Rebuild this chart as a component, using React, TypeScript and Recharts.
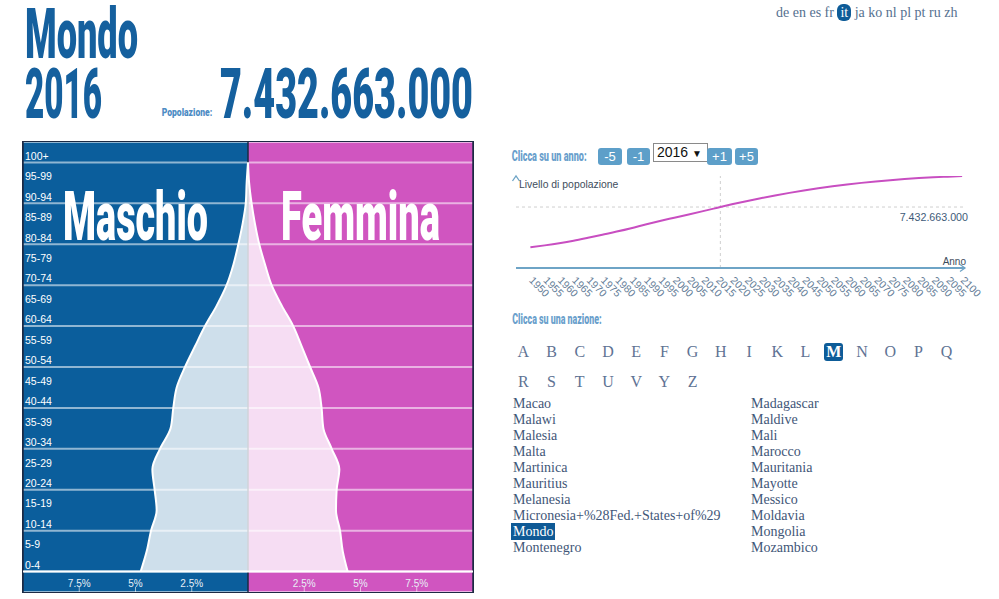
import React from 'react';
import {
  ComposedChart,
  Area,
  XAxis,
  YAxis,
  CartesianGrid,
  ReferenceLine,
  ReferenceDot,
  LineChart,
  Line,
} from 'recharts';

// ---------- data ----------
const ageGroups = ['0-4', '5-9', '10-14', '15-19', '20-24', '25-29', '30-34', '35-39', '40-44', '45-49', '50-54', '55-59', '60-64', '65-69', '70-74', '75-79', '80-84', '85-89', '90-94', '95-99', '100+'];
const malePct = [4.77, 4.5, 4.31, 4.06, 4.15, 4.25, 3.91, 3.44, 3.32, 3.17, 2.8, 2.36, 1.91, 1.39, 0.95, 0.65, 0.43, 0.24, 0.1, 0.06, 0.0];
const femalePct = [4.43, 4.21, 4.09, 3.91, 3.94, 4.06, 3.72, 3.35, 3.27, 3.13, 2.76, 2.39, 2.01, 1.5, 1.05, 0.76, 0.5, 0.31, 0.16, 0.05, 0.0];
const pctTicks = [-7.5, -5, -2.5, 2.5, 5, 7.5];
const halfEdges = [-10, 0, 10];

const years = [1950, 1955, 1960, 1965, 1970, 1975, 1980, 1985, 1990, 1995, 2000, 2005, 2010, 2015, 2016, 2020, 2025, 2030, 2035, 2040, 2045, 2050, 2055, 2060, 2065, 2070, 2075, 2080, 2085, 2090, 2095, 2100];
const popBillions = [2.525, 2.758, 3.018, 3.322, 3.682, 4.061, 4.44, 4.853, 5.31, 5.735, 6.127, 6.52, 6.93, 7.349, 7.433, 7.758, 8.142, 8.501, 8.839, 9.157, 9.454, 9.725, 9.968, 10.184, 10.375, 10.548, 10.704, 10.84, 10.956, 11.05, 11.132, 11.213];
const yearTicks = [1950, 1955, 1960, 1965, 1970, 1975, 1980, 1985, 1990, 1995, 2000, 2005, 2010, 2015, 2020, 2025, 2030, 2035, 2040, 2045, 2050, 2055, 2060, 2065, 2070, 2075, 2080, 2085, 2090, 2095, 2100];
const yearDomain = [1945, 2101];

const placeName = 'Mondo';
const selectedYear = 2016;
const selectedPopulation = 7432663000;

const languages = ['de', 'en', 'es', 'fr', 'it', 'ja', 'ko', 'nl', 'pl', 'pt', 'ru', 'zh'];
const activeLanguage = 'it';
const lettersRow1 = ['A', 'B', 'C', 'D', 'E', 'F', 'G', 'H', 'I', 'K', 'L', 'M', 'N', 'O', 'P', 'Q'];
const lettersRow2 = ['R', 'S', 'T', 'U', 'V', 'Y', 'Z'];
const activeLetter = 'M';
const countriesLeft = ['Macao', 'Malawi', 'Malesia', 'Malta', 'Martinica', 'Mauritius', 'Melanesia', 'Micronesia+%28Fed.+States+of%29', 'Mondo', 'Montenegro'];
const countriesRight = ['Madagascar', 'Maldive', 'Mali', 'Marocco', 'Mauritania', 'Mayotte', 'Messico', 'Moldavia', 'Mongolia', 'Mozambico'];
const activeCountry = 'Mondo';

const pyramidRows = ageGroups.map((g, i) => ({ pos: i, group: g, male: -malePct[i], female: femalePct[i] }));
const labelPositions = ageGroups.map((_, i) => i + 0.5);
const gridPositions = ageGroups.map((_, i) => i);
const popRows = years.map((y, i) => ({ year: y, pop: popBillions[i] }));
const popMax = Math.max(...popBillions);

// ---------- styles ----------
const BLUE = '#0b5e9c';
const MAGENTA = '#d055c0';
const TITLE = '#15609e';
const DARK = '#1c2a44';
const AXIS = '#6ea4c6';
const LINE = '#c84ec1';
const SANS = "'Liberation Sans', Arial, sans-serif";
const SERIF = "'Liberation Serif', 'Times New Roman', serif";
const COND = "Roboto, 'DejaVu Sans', sans-serif";

const formatIt = (n: number) => String(n).replace(/\B(?=(\d{3})+(?!\d))/g, '.');

const AgeTick = (props: any) => {
  const { x, y, payload } = props;
  return (
    <text x={x} y={y + 7.5} fill="#ffffff" fontSize={10.5} fontFamily={SANS}>
      {ageGroups[Math.floor(payload.value)]}
    </text>
  );
};

const YearTick = (props: any) => {
  const { x, y, payload } = props;
  const px = x - 2;
  const py = y + 13;
  return (
    <text x={px} y={py} transform={`rotate(45 ${px} ${py})`} fill="#647d97" fontSize={10.5} fontFamily={SANS}>
      {payload.value}
    </text>
  );
};

const PopLabel = (props: any) => {
  const vb = props.viewBox || {};
  return (
    <text x={vb.x + vb.width + 3} y={vb.y + 13.5} textAnchor="end" fill="#3e5a78" fontSize={10.7} fontFamily={SANS}>
      {formatIt(selectedPopulation)}
    </text>
  );
};

const ArrowRight = (p: any) => (
  <path d={`M${p.cx - 5},${p.cy - 3.5} L${p.cx},${p.cy} L${p.cx - 5},${p.cy + 3.5}`} fill="none" stroke={AXIS} strokeWidth={1.3} />
);
const ArrowUp = (p: any) => (
  <path d={`M${p.cx - 3.5},${p.cy + 5} L${p.cx},${p.cy} L${p.cx + 3.5},${p.cy + 5}`} fill="none" stroke={AXIS} strokeWidth={1.3} />
);

const hLine = (p: any) => (
  <line key={p.key} x1={p.x1} y1={p.y1} x2={p.x2} y2={p.y2} stroke="#ffffff" strokeOpacity={0.55} strokeWidth={2} />
);
const vLine = (p: any) => (
  <line key={p.key} x1={p.x1} y1={p.y1} x2={p.x2} y2={p.y2} stroke={DARK} strokeWidth={1.5} />
);

const CondText = ({ x, y, w, size, color, children }: any) => (
  <text x={x} y={y} textLength={w} lengthAdjust="spacingAndGlyphs" fontSize={size} fontFamily={COND} fontWeight={900} fill={color}>
    {children}
  </text>
);

const Button = ({ left, width, label }: any) => (
  <div
    style={{
      position: 'absolute',
      left,
      top: 148,
      width,
      height: 17,
      background: '#5d9fc9',
      borderRadius: 3,
      color: '#fff',
      fontFamily: SANS,
      fontSize: 13,
      lineHeight: '17px',
      textAlign: 'center',
    }}
  >
    {label}
  </div>
);

export default function App() {
  return (
    <div style={{ position: 'absolute', left: 0, top: 0, width: 999, height: 599, background: '#fff', overflow: 'hidden' }}>
      {/* languages */}
      <div style={{ position: 'absolute', left: 776, top: 4, fontFamily: SERIF, fontSize: 14, color: '#55708f', whiteSpace: 'pre', lineHeight: '18px' }}>
        {languages.map((l, i) => (
          <span key={l}>
            {l === activeLanguage ? (
              <span style={{ background: '#0e5c98', color: '#fff', borderRadius: 6, padding: '1px 3px' }}>{l}</span>
            ) : (
              l
            )}
            {i < languages.length - 1 ? ' ' : ''}
          </span>
        ))}
      </div>

      {/* pyramid */}
      <div style={{ position: 'absolute', left: 22, top: 141, width: 450, height: 450, border: `1px solid ${DARK}` }}>
        <ComposedChart layout="vertical" width={450} height={450} data={pyramidRows} margin={{ top: 0, right: 0, bottom: 0, left: 0 }}>
          <XAxis xAxisId="bg" type="number" domain={[-10, 10]} ticks={halfEdges} hide allowDataOverflow />
          <XAxis
            xAxisId="x"
            type="number"
            domain={[-10, 10]}
            ticks={pctTicks}
            interval={0}
            orientation="bottom"
            mirror
            allowDataOverflow
            axisLine={false}
            tickSize={5}
            tickMargin={0}
            tickLine={{ stroke: '#ffffff', strokeOpacity: 0.6 }}
            tick={{ fill: '#e8eff6', fontSize: 10, fontFamily: SANS }}
            tickFormatter={(v: number) => `${Math.abs(v)}%`}
          />
          <YAxis yAxisId="grid" type="number" dataKey="pos" domain={[-1, 21]} ticks={gridPositions} reversed hide allowDataOverflow />
          <YAxis
            yAxisId="lab"
            type="number"
            dataKey="pos"
            domain={[-1, 21]}
            ticks={labelPositions}
            interval={0}
            orientation="left"
            reversed
            mirror
            allowDataOverflow
            axisLine={false}
            tickLine={false}
            tickSize={0}
            tickMargin={2}
            tick={<AgeTick />}
          />
          <CartesianGrid xAxisId="bg" yAxisId="grid" verticalFill={[BLUE, MAGENTA]} fillOpacity={1} horizontal={hLine} vertical={vLine} />
          <Area
            xAxisId="x"
            yAxisId="lab"
            dataKey="male"
            type="monotone"
            baseValue={0}
            stroke="#ffffff"
            strokeWidth={2}
            fill="#ffffff"
            fillOpacity={0.8}
            dot={false}
            activeDot={false}
            isAnimationActive={false}
          />
          <Area
            xAxisId="x"
            yAxisId="lab"
            dataKey="female"
            type="monotone"
            baseValue={0}
            stroke="#ffffff"
            strokeWidth={2}
            fill="#ffffff"
            fillOpacity={0.8}
            dot={false}
            activeDot={false}
            isAnimationActive={false}
          />
          <ReferenceLine xAxisId="x" yAxisId="lab" y={0} stroke="#ffffff" strokeWidth={2} />
        </ComposedChart>
      </div>

      {/* year controls */}
      <Button left={598} width={24} label="-5" />
      <Button left={627} width={23} label="-1" />
      <div
        style={{
          position: 'absolute',
          left: 653,
          top: 143,
          width: 50,
          height: 17,
          border: '1px solid #8a8a8a',
          background: '#fff',
          fontFamily: SANS,
          fontSize: 14,
          lineHeight: '17px',
          color: '#111',
          paddingLeft: 3,
          boxSizing: 'content-box',
          whiteSpace: 'pre',
        }}
      >
        {String(selectedYear)} <span style={{ fontSize: 10 }}>▼</span>
      </div>
      <Button left={707} width={25} label="+1" />
      <Button left={735} width={23} label="+5" />

      {/* line chart */}
      <div style={{ position: 'absolute', left: 500, top: 160 }}>
        <LineChart width={490} height={150} data={popRows} margin={{ top: 16, right: 25, bottom: 0, left: 16 }}>
          <XAxis
            dataKey="year"
            type="number"
            domain={yearDomain}
            ticks={yearTicks}
            interval={0}
            height={42}
            allowDataOverflow
            tickLine={false}
            tickSize={0}
            tickMargin={0}
            axisLine={{ stroke: AXIS, strokeWidth: 2 }}
            tick={<YearTick />}
          />
          <YAxis
            type="number"
            domain={[0, 'dataMax']}
            allowDataOverflow
            width={0}
            tick={false}
            tickLine={false}
            axisLine={{ stroke: AXIS, strokeWidth: 2 }}
          />
          <ReferenceLine x={selectedYear} stroke="#cfcfcf" strokeDasharray="3 3" />
          <ReferenceLine y={selectedPopulation / 1e9} stroke="#cfcfcf" strokeDasharray="3 3" label={PopLabel} />
          <ReferenceDot x={yearDomain[1]} y={0} r={0} ifOverflow="visible" shape={ArrowRight} />
          <ReferenceDot x={yearDomain[0]} y={popMax} r={0} ifOverflow="visible" shape={ArrowUp} />
          <Line type="monotone" dataKey="pop" stroke={LINE} strokeWidth={2} dot={false} activeDot={false} isAnimationActive={false} />
        </LineChart>
      </div>

      {/* letters */}
      {lettersRow1.map((l, i) => (
        <div
          key={l}
          style={{
            position: 'absolute',
            left: 523.3 + 28.22 * i - 9.5,
            top: 343,
            width: 19,
            height: 18,
            lineHeight: '18px',
            textAlign: 'center',
            fontFamily: SERIF,
            fontSize: 16,
            color: l === activeLetter ? '#fff' : '#607394',
            background: l === activeLetter ? '#0d5c98' : 'transparent',
            borderRadius: 3,
            fontWeight: l === activeLetter ? 700 : 400,
          }}
        >
          {l}
        </div>
      ))}
      {lettersRow2.map((l, i) => (
        <div
          key={l}
          style={{
            position: 'absolute',
            left: 523.3 + 28.22 * i - 9.5,
            top: 373,
            width: 19,
            height: 18,
            lineHeight: '18px',
            textAlign: 'center',
            fontFamily: SERIF,
            fontSize: 16,
            color: '#607394',
          }}
        >
          {l}
        </div>
      ))}

      {/* country lists */}
      {[countriesLeft, countriesRight].map((list, c) => (
        <div key={c} style={{ position: 'absolute', left: c === 0 ? 513 : 751, top: 395.5, fontFamily: SERIF, fontSize: 14, lineHeight: '16px', color: '#3f5678', whiteSpace: 'pre' }}>
          {list.map((name) => (
            <div key={name}>
              {name === activeCountry ? (
                <span style={{ background: '#0f5a96', color: '#fff', padding: '1px 2px', marginLeft: -2 }}>{name}</span>
              ) : (
                name
              )}
            </div>
          ))}
        </div>
      ))}

      {/* overlay text */}
      <svg width={999} height={599} style={{ position: 'absolute', left: 0, top: 0, pointerEvents: 'none' }}>
        <CondText x={25} y={58.3} w={113} size={70} color={TITLE}>{placeName}</CondText>
        <CondText x={25} y={118.3} w={77} size={70} color={TITLE}>{String(selectedYear)}</CondText>
        <CondText x={220} y={118.3} w={253} size={70} color={TITLE}>{formatIt(selectedPopulation)}</CondText>
        <CondText x={161.7} y={116} w={50.6} size={11} color="#4d8cc4">Popolazione:</CondText>
        <CondText x={63} y={240} w={145} size={69} color="#ffffff">Maschio</CondText>
        <CondText x={281} y={240} w={159} size={69} color="#ffffff">Femmina</CondText>
        <CondText x={511.7} y={161} w={75} size={14} color="#6a9fcc">Clicca su un anno:</CondText>
        <CondText x={512.3} y={323.5} w={89.4} size={14} color="#6a9fcc">Clicca su una nazione:</CondText>
        <text x={519} y={188} fontSize={10.4} fontFamily={SANS} fill="#3e4d5c">Livello di popolazione</text>
        <text x={966} y={265} textAnchor="end" fontSize={10} fontFamily={SANS} fill="#3e4d5c">Anno</text>
      </svg>
    </div>
  );
}
